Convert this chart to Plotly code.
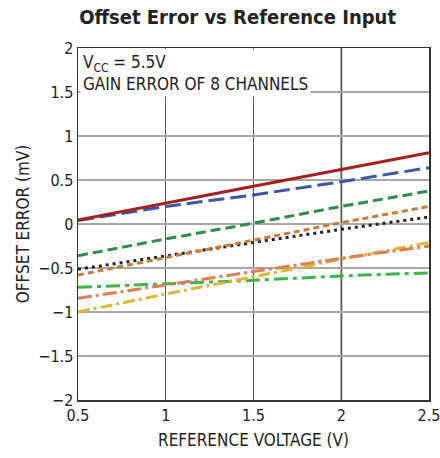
import plotly.graph_objects as go

x_vals = [0.5, 1.0, 1.5, 2.0, 2.5]
ch_red = [0.045, 0.24, 0.43, 0.62, 0.81]
ch_blue = [0.04, 0.20, 0.33, 0.48, 0.64]
ch_dkgreen = [-0.36, -0.17, 0.01, 0.20, 0.375]
ch_orange = [-0.58, -0.38, -0.18, 0.015, 0.20]
ch_black = [-0.515, -0.36, -0.21, -0.06, 0.08]
ch_coral = [-0.845, -0.69, -0.54, -0.39, -0.25]
ch_yellow = [-1.0, -0.795, -0.60, -0.40, -0.21]
ch_green = [-0.72, -0.68, -0.64, -0.59, -0.555]

x_ticks = [0.5, 1, 1.5, 2, 2.5]
x_tick_text = ["0.5", "1", "1.5", "2", "2.5"]
y_ticks = [-2, -1.5, -1, -0.5, 0, 0.5, 1, 1.5, 2]
y_tick_text = ["\u22122", "\u22121.5", "\u22121", "\u22120.5", "0", "0.5", "1", "1.5", "2"]

FONT = "DejaVu Sans Condensed, Roboto, sans-serif"

series = [
    (ch_green, "#3cb44b", "14px,5px,4px,5px", 3),
    (ch_yellow, "#dcb634", "12px,4px,3px,4px", 3),
    (ch_coral, "#e07b52", "14px,4px,3px,4px", 3),
    (ch_black, "#222222", "3px,4px", 3),
    (ch_orange, "#c97a36", "6px,4px", 3),
    (ch_dkgreen, "#2e8b4c", "10px,5px", 3),
    (ch_blue, "#3a56a8", "16px,6px", 3),
    (ch_red, "#a3201f", "solid", 3),
]

fig = go.Figure()
for ys, col, dash, w in series:
    fig.add_trace(go.Scatter(x=x_vals, y=ys, mode="lines",
                             line=dict(color=col, dash=dash, width=w),
                             showlegend=False, hoverinfo="skip"))

# lighter vertical grid line at x = 2 (as in the reference)
fig.add_shape(type="line", x0=x_ticks[3], x1=x_ticks[3], y0=0, y1=1,
              xref="x", yref="paper", layer="between",
              line=dict(color="#a8a8a8", width=2.5))

fig.add_annotation(x=0.0, y=1.0, xref="paper", yref="paper",
                   xanchor="left", yanchor="top", align="left",
                   text="V<sub>CC</sub> = 5.5V<br>GAIN ERROR OF 8 CHANNELS",
                   showarrow=False, bgcolor="white", borderpad=2,
                   xshift=2, yshift=-1,
                   font=dict(family=FONT, size=17, color="#222"))

fig.update_layout(
    width=440, height=458,
    margin=dict(l=78, r=11, t=48, b=58),
    paper_bgcolor="white", plot_bgcolor="white",
    title=dict(text="<b>Offset Error vs Reference Input</b>", x=0.54, xanchor="center",
               y=1 - 17 / 458, yanchor="middle",
               font=dict(family=FONT, size=20, color="#222")),
    font=dict(family=FONT, size=16, color="#222"),
)
fig.update_xaxes(range=[0.5, 2.5], tickvals=x_ticks, ticktext=x_tick_text,
                 showgrid=True, gridcolor="#5a5a5a", gridwidth=1,
                 showline=True, linecolor="#333", linewidth=1.5, mirror=True,
                 ticks="", zeroline=False, automargin=False,
                 ticklabeloverflow="allow",
                 title=dict(text="REFERENCE VOLTAGE (V)", font=dict(size=17), standoff=10))
fig.update_yaxes(range=[-2, 2], tickvals=y_ticks, ticktext=y_tick_text,
                 showgrid=True, gridcolor="#a8a8a8", gridwidth=2.5,
                 showline=True, linecolor="#333", linewidth=1.5, mirror=True,
                 ticks="", zeroline=False, automargin=False,
                 ticklabeloverflow="allow",
                 title=dict(text="OFFSET ERROR (mV)", font=dict(size=17), standoff=4))

fig.write_html("out.html",
               config={"displayModeBar": False, "staticPlot": True},
               post_script="document.body.style.margin='0';document.body.style.overflow='hidden';")
